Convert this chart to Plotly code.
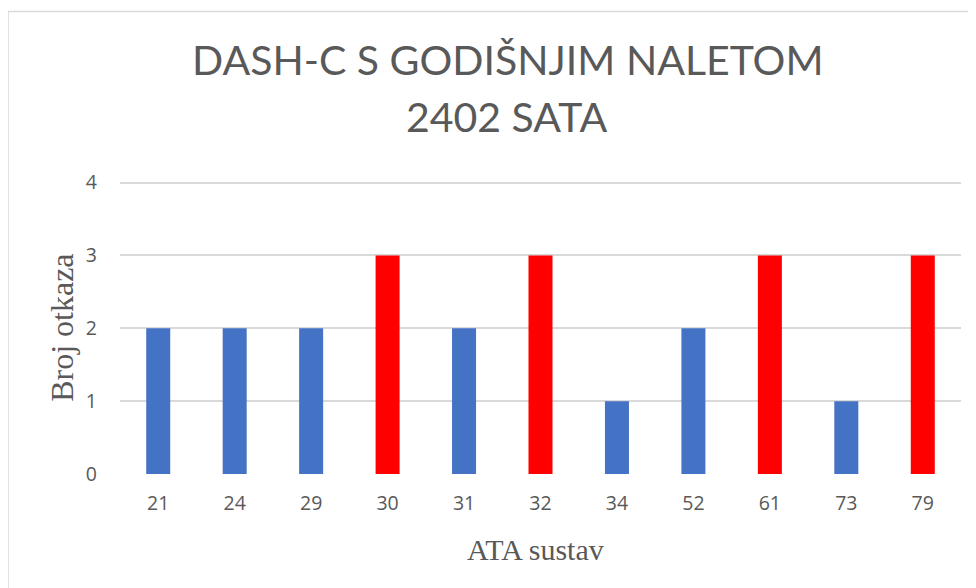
import plotly.graph_objects as go

categories = ['21', '24', '29', '30', '31', '32', '34', '52', '61', '73', '79']
values = [2, 2, 2, 3, 2, 3, 1, 2, 3, 1, 3]
bar_colors = ['#FF0000' if v == 3 else '#4472C4' for v in values]
y_ticks = [0, 1, 2, 3, 4]
y_top = 4.05

W, H = 976, 588
OFF = 8  # page body offset
# target page-pixel geometry: x extent of plot, y of value 4 and value 0
GX0, GX1, Y4, Y0 = 120, 961, 183, 474
unit = (Y0 - Y4) / 4
GY0 = Y4 - (y_top - 4) * unit
L = GX0 - OFF
R = W - (GX1 - OFF)
T = GY0 - OFF
B = H - (Y0 - OFF)
pw, ph = W - L - R, H - T - B

def px_x(x):
    return (x - OFF - L) / pw

def px_y(y):
    return (H - B - (y - OFF)) / ph

fig = go.Figure()
fig.add_trace(go.Bar(
    x=categories, y=values,
    marker=dict(color=bar_colors, line=dict(width=0)),
    width=0.314,
))

fig.update_layout(
    width=W, height=H,
    margin=dict(l=L, r=R, t=T, b=B),
    paper_bgcolor='white', plot_bgcolor='white',
    showlegend=False,
    xaxis=dict(
        type='category', showgrid=False, zeroline=False, showline=False,
        ticks='', tickfont=dict(family='Open Sans', size=19.5, color='#595959'),
        ticklabelstandoff=15,
    ),
    yaxis=dict(
        range=[0, y_top], tickvals=y_ticks, showgrid=True, gridcolor='#d9d9d9',
        gridwidth=1.5, zeroline=False, showline=False, ticks='',
        tickfont=dict(family='Open Sans', size=19.5, color='#595959'),
        ticklabelstandoff=22,
    ),
    annotations=[
        dict(text='DASH-C S GODIŠNJIM NALETOM', xref='paper', yref='paper',
             x=px_x(507), y=px_y(60), xanchor='center', yanchor='middle', showarrow=False,
             font=dict(family='Lato', size=41, color='#595959')),
        dict(text='2402 SATA', xref='paper', yref='paper',
             x=px_x(507), y=px_y(117), xanchor='center', yanchor='middle', showarrow=False,
             font=dict(family='Lato', size=41, color='#595959')),
        dict(text='Broj otkaza', xref='paper', yref='paper', x=px_x(62), y=px_y(328),
             xanchor='center', yanchor='middle', textangle=-90, showarrow=False,
             font=dict(family='Liberation Serif', size=32, color='#595959')),
        dict(text='ATA sustav', xref='paper', yref='paper', x=px_x(535), y=px_y(549),
             xanchor='center', yanchor='middle', showarrow=False,
             font=dict(family='Liberation Serif', size=30, color='#595959')),
    ],
    shapes=[
        dict(type='rect', xref='paper', yref='paper', x0=px_x(8), y0=px_y(620),
             x1=px_x(1000), y1=px_y(12), line=dict(color='#d9d9d9', width=1.5),
             fillcolor='rgba(0,0,0,0)', layer='below'),
    ],
)

fig.write_html('out.html')
